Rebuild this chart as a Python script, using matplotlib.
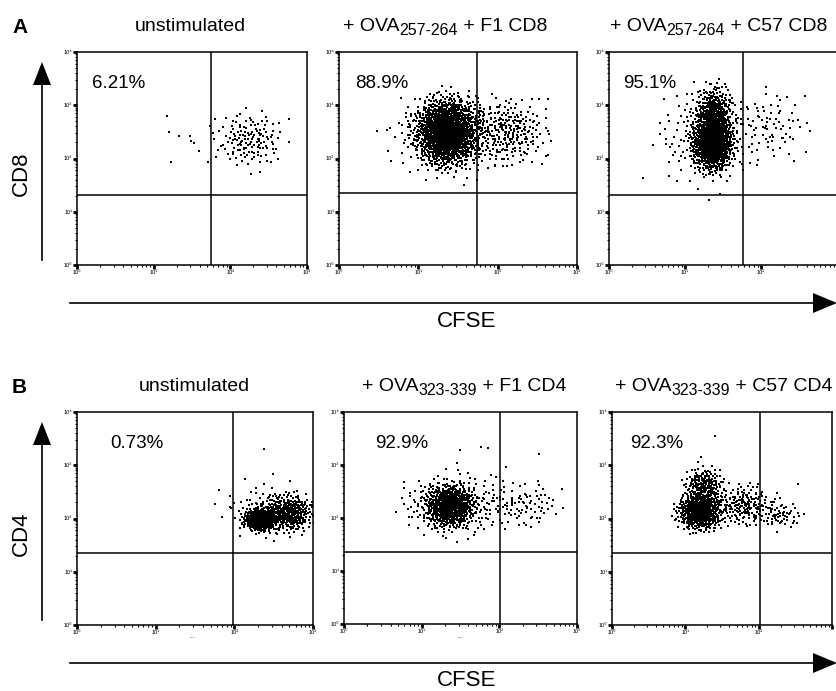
import numpy as np
import matplotlib
matplotlib.use("Agg")
import matplotlib.pyplot as plt

plt.rcParams['font.family'] = ['Liberation Sans', 'DejaVu Sans']

# --- data (log10 units: CFSE 0..3 decades, CD8/CD4 0..4 decades) ---
ROW_LETTERS = ["A", "B"]
ROW_MARKERS = ["CD8", "CD4"]

# title = (main, subscript, rest)
TITLES = [
    ("unstimulated", "", ""),
    ("+ OVA", "257-264", " + F1 CD8"),
    ("+ OVA", "257-264", " + C57 CD8"),
    ("unstimulated", "", ""),
    ("+ OVA", "323-339", " + F1 CD4"),
    ("+ OVA", "323-339", " + C57 CD4"),
]
PERCENTS = ["6.21%", "88.9%", "95.1%", "0.73%", "92.9%", "92.3%"]
GATE_X = [1.75, 1.74, 1.76, 1.98, 2.01, 2.02]
GATE_Y = [1.31, 1.35, 1.31, 1.35, 1.35, 1.35]

# cell clouds: (centre x, centre y, spread x, spread y, events)
A1_BLOBS = [(2.25, 2.35, 0.22, 0.25, 140)]
A2_BLOBS = [(1.36, 2.50, 0.19, 0.30, 1400), (1.45, 2.45, 0.36, 0.38, 350),
            (2.15, 2.50, 0.24, 0.30, 220)]
A3_BLOBS = [(1.36, 2.30, 0.13, 0.25, 950), (1.38, 2.85, 0.12, 0.25, 350),
            (1.30, 2.40, 0.30, 0.45, 200), (2.10, 2.60, 0.25, 0.35, 80)]
B1_BLOBS = [(2.33, 1.98, 0.10, 0.10, 420), (2.70, 2.10, 0.15, 0.17, 300),
            (2.45, 2.10, 0.22, 0.22, 150)]
B2_BLOBS = [(1.36, 2.22, 0.15, 0.19, 550), (1.40, 2.25, 0.30, 0.28, 300),
            (2.30, 2.25, 0.25, 0.22, 90)]
B3_BLOBS = [(1.20, 2.12, 0.15, 0.17, 550), (1.25, 2.60, 0.13, 0.18, 200),
            (1.80, 2.25, 0.20, 0.20, 180), (2.28, 2.07, 0.15, 0.13, 60)]

# single stray events
A1_STRAY_X = [1.17, 1.20, 1.33, 1.47, 1.49, 1.53, 1.59, 1.22, 1.71, 1.73, 2.76]
A1_STRAY_Y = [2.79, 2.49, 2.43, 2.42, 2.33, 2.30, 2.15, 1.93, 1.93, 2.61, 2.74]
A2_STRAY_X = [0.48, 2.63, 2.63]
A2_STRAY_Y = [2.52, 3.11, 2.06]
A3_STRAY_X = [0.45, 0.90, 0.75, 2.64]
A3_STRAY_Y = [1.63, 1.58, 2.27, 2.52]
B1_STRAY_X = [2.38, 2.13, 1.80, 1.75, 1.84, 1.95, 1.94, 2.49, 2.71]
B1_STRAY_Y = [3.30, 2.74, 2.54, 2.28, 2.03, 2.43, 2.22, 2.83, 2.71]
B2_STRAY_X = [1.49, 1.76, 1.86, 1.45, 2.51, 2.09, 1.89, 1.11]
B2_STRAY_Y = [3.29, 3.34, 3.32, 3.03, 3.20, 2.96, 2.81, 2.64]
B3_STRAY_X = [1.41, 2.54, 1.22, 2.54]
B3_STRAY_Y = [3.54, 2.65, 3.16, 2.10]

BLOBS = [A1_BLOBS, A2_BLOBS, A3_BLOBS, B1_BLOBS, B2_BLOBS, B3_BLOBS]
STRAYS = [(A1_STRAY_X, A1_STRAY_Y), (A2_STRAY_X, A2_STRAY_Y), (A3_STRAY_X, A3_STRAY_Y),
          (B1_STRAY_X, B1_STRAY_Y), (B2_STRAY_X, B2_STRAY_Y), (B3_STRAY_X, B3_STRAY_Y)]

X_DECADES = 3
Y_DECADES = 4

# --- layout in pixels (left, right, top, bottom) ---
W, H = 836, 691
BOXES = [(77, 307, 52, 265), (339, 577, 52, 265), (609, 837, 52, 265),
         (77, 313, 412, 625), (344, 577, 412, 624), (612, 832, 412, 625)]
TITLE_LEFT = [None, 343, 610, None, 362, 615]
TITLE_CENTER = [190, None, None, 194, None, None]
PCT_LEFT = [92, 355, 623, 110, 375, 630]


def halton(idx, base):
    out = np.zeros(len(idx))
    f = np.ones(len(idx))
    i = idx.copy()
    while np.any(i > 0):
        f = f / base
        out += f * (i % base)
        i = i // base
    return out


def events(blobs, start):
    xs, ys = [], []
    k = start
    for cx, cy, sx, sy, n in blobs:
        idx = np.arange(k, k + n)
        k += n
        u1 = 0.03 + 0.97 * halton(idx, 2)   # keep events within ~2.6 sd
        u2 = halton(idx, 3)
        r = np.sqrt(-2 * np.log(u1))
        xs.append(cx + sx * r * np.cos(2 * np.pi * u2))
        ys.append(cy + sy * r * np.sin(2 * np.pi * u2))
    return np.concatenate(xs), np.concatenate(ys), k


fig = plt.figure(figsize=(W / 100, H / 100), dpi=100)

major_lbl = ["10⁰", "10¹", "10²", "10³", "10⁴"]
counter = 1
for i, (l, r, t, b) in enumerate(BOXES):
    ax = fig.add_axes([l / W, 1 - b / H, (r - l) / W, (b - t) / H])
    x, y, counter = events(BLOBS[i], counter)
    ax.scatter(x, y, s=1.5, marker='s', c='k', linewidths=0)
    ax.scatter(STRAYS[i][0], STRAYS[i][1], s=1.5, marker='s', c='k', linewidths=0)
    ax.axvline(GATE_X[i], color='k', lw=1.1)
    ax.axhline(GATE_Y[i], color='k', lw=1.1)
    ax.set_xlim(0, X_DECADES)
    ax.set_ylim(0, Y_DECADES)
    minor_x = [d + np.log10(m) for d in range(X_DECADES) for m in range(2, 10)]
    minor_y = [d + np.log10(m) for d in range(Y_DECADES) for m in range(2, 10)]
    xl = major_lbl[:X_DECADES + 1]
    if r > W - 5:
        xl = xl[:-1] + [""]
    ax.set_xticks(range(X_DECADES + 1))
    ax.set_xticklabels(xl)
    ax.set_yticks(range(Y_DECADES + 1))
    ax.set_yticklabels(major_lbl)
    ax.set_xticks(minor_x, minor=True)
    ax.set_yticks(minor_y, minor=True)
    ax.tick_params(which='major', direction='out', length=3, width=2, labelsize=4, pad=0.5)
    ax.tick_params(which='minor', direction='out', length=1.5, width=0.8)
    for s in ax.spines.values():
        s.set_linewidth(1.1)

# overlay in pixel coordinates for labels and axis arrows
ov = fig.add_axes([0, 0, 1, 1], zorder=10)
ov.set_xlim(0, W)
ov.set_ylim(H, 0)
ov.axis('off')

ROW_Y = [0, 360]
for row in range(2):
    dy = ROW_Y[row]
    ov.text(12, 33 + dy, ROW_LETTERS[row], fontsize=15, fontweight='bold', va='baseline')
    ov.text(21, 174 + dy, ROW_MARKERS[row], fontsize=16, rotation=90, ha='center', va='center')
    # vertical arrow
    ov.plot([42, 42], [260 + dy, 84 + dy], color='k', lw=1.2)
    ov.fill([33, 51, 42], [85 + dy, 85 + dy, 62 + dy], color='k', lw=0)
    # horizontal arrow
    ay = 303 + dy
    ov.plot([70, 815], [ay, ay], color='k', lw=1.2)
    ov.fill([813, 813, 837], [ay - 10, ay + 10, ay], color='k', lw=0)
    ov.text(467, ay + 18, "CFSE", fontsize=16, ha='center', va='center')

ov.text(193, 637, "....", fontsize=4, ha='center', va='center')
ov.text(460, 637, "....", fontsize=4, ha='center', va='center')

for i in range(6):
    base_y = 31 if i < 3 else 391
    main, sub, rest = TITLES[i]
    if not sub:
        ov.text(TITLE_CENTER[i], base_y, main, fontsize=14, ha='center', va='baseline')
    else:
        t1 = ov.text(TITLE_LEFT[i], base_y, main, fontsize=14, ha='left', va='baseline')
        t2 = ov.annotate(sub, xy=(1, 0), xycoords=t1, xytext=(0, -2.5),
                         textcoords='offset points', fontsize=11.5, va='bottom')
        ov.annotate(rest, xy=(1, 0), xycoords=(t2, t1), fontsize=14, va='bottom')
    pct_y = 88 if i < 3 else 448
    ov.text(PCT_LEFT[i], pct_y, PERCENTS[i], fontsize=13.5, ha='left', va='baseline')

fig.savefig("out.png", dpi=100)
